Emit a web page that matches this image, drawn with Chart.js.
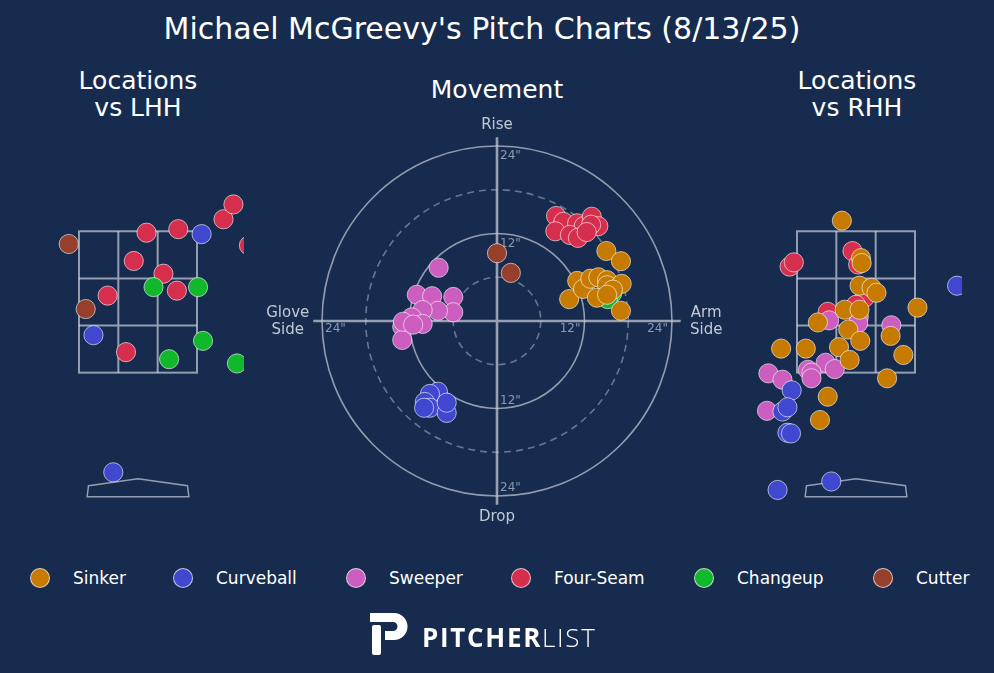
<!DOCTYPE html>
<html>
<head>
<meta charset="utf-8">
<script src="https://cdn.jsdelivr.net/npm/chart.js@4.4.0/dist/chart.umd.min.js"></script>
<style>
  body { margin:0; width:994px; height:673px; overflow:hidden; background:#162b4d; font-family:"DejaVu Sans", sans-serif; color:#fff; position:relative; }
  .txt { position:absolute; transform:translate(-50%,-50%); white-space:nowrap; text-align:center; }
  canvas { position:absolute; }
  #legend .dot { position:absolute; width:18px; height:18px; border-radius:50%; border:1px solid rgba(230,230,230,0.8); transform:translate(-50%,-50%); }
  #legend .lab { position:absolute; font-size:17px; transform:translate(0,-50%); white-space:nowrap; }
  #logo { position:absolute; left:422px; top:637px; transform:translate(0,-50%); font-family:"Open Sans", sans-serif; font-size:26px; letter-spacing:1.7px; white-space:nowrap; }
</style>
</head>
<body>
<div class="txt" style="left:482px;top:28px;font-size:30px">Michael McGreevy's Pitch Charts (8/13/25)</div>
<div class="txt" style="left:138px;top:94px;font-size:25px;line-height:27px">Locations<br>vs LHH</div>
<div class="txt" style="left:497px;top:89px;font-size:25px">Movement</div>
<div class="txt" style="left:857px;top:94px;font-size:25px;line-height:27px">Locations<br>vs RHH</div>

<canvas id="lhh" width="212" height="364" style="left:32px;top:150px"></canvas>
<canvas id="move" width="480" height="420" style="left:257px;top:111px"></canvas>
<canvas id="rhh" width="212" height="364" style="left:750px;top:150px"></canvas>

<div id="legend"></div>

<svg style="position:absolute;left:0;top:0" width="994" height="673">
  <path d="M370,613 H394 A13.5,13.5 0 0 1 394,640 H385 V631 H393 A4.5,4.5 0 0 0 393,622 H370 Z" fill="#fff"/>
  <rect x="372" y="625" width="9" height="30" rx="2" fill="#fff"/>
</svg>
<div id="logo"><b style="font-weight:700">PITCHER</b><span style="font-weight:300">LIST</span></div>

<script>
// pitch types, legend order
var pitchNames  = ['Sinker', 'Curveball', 'Sweeper', 'Four-Seam', 'Changeup', 'Cutter'];
var pitchColors = ['#c67b00', '#4048d0', '#cb5ebf', '#d62f4e', '#12b82c', '#953f2c'];
// which one sits on top when drawn (first = top)
var drawOrder   = ['Cutter', 'Sinker', 'Curveball', 'Sweeper', 'Changeup', 'Four-Seam'];

// movement, inches [horizontal (arm side +), vertical (rise +)]
var moveSinker = [[15.0,9.6],[17.0,8.2],[11.0,5.5],[9.9,3.0],[11.8,4.4],[12.8,5.8],[13.9,6.0],[15.1,5.6],[15.1,4.9],[17.1,5.1],[15.9,4.3],[17.0,1.4],[13.7,3.2],[15.1,3.6]];
var moveCurveball = [[-8.1,-9.7],[-9.2,-10.0],[-9.9,-11.1],[-9.2,-11.9],[-6.9,-12.6],[-6.9,-11.2],[-10.0,-11.9]];
var moveSweeper = [[-8.0,7.3],[-11.0,3.6],[-8.9,3.4],[-6.0,3.3],[-6.0,1.2],[-8.1,1.4],[-10.2,1.5],[-11.7,0.5],[-13.0,-0.8],[-13.0,-2.6],[-10.2,-0.4],[-12.9,-0.1],[-11.5,-0.5]];
var moveFourSeam = [[8.1,14.4],[9.1,13.6],[11.0,13.4],[11.9,13.0],[13.0,14.3],[13.9,13.0],[8.0,12.3],[10.0,11.8],[11.1,11.4],[12.9,13.2],[12.3,12.2]];
var moveChangeup = [[14.5,3.4],[15.8,3.8],[15.2,3.0]];
var moveCutter = [[0.0,9.3],[1.9,6.6]];

// plate locations vs LHH, feet [x, height]
var lhhSinker = [];
var lhhCurveball = [[0.90,3.46],[-0.63,2.03],[-0.35,0.09]];
var lhhSweeper = [];
var lhhFourSeam = [[0.12,3.48],[0.57,3.53],[1.21,3.67],[1.35,3.88],[1.57,3.30],[-0.06,3.08],[0.36,2.90],[0.55,2.66],[-0.43,2.59],[-0.17,1.79]];
var lhhChangeup = [[0.22,2.71],[0.85,2.71],[0.44,1.69],[0.92,1.95],[1.40,1.63]];
var lhhCutter = [[-0.98,3.32],[-0.74,2.40]];

// plate locations vs RHH
var rhhSinker = [[-0.20,3.65],[0.07,3.12],[0.08,3.05],[0.05,2.73],[0.22,2.70],[0.29,2.63],[0.87,2.42],[-0.16,2.39],[0.05,2.39],[-0.54,2.21],[0.49,2.02],[-0.11,2.11],[0.06,1.95],[-1.06,1.84],[-0.71,1.84],[-0.24,1.86],[-0.09,1.68],[0.67,1.75],[0.44,1.42],[-0.40,1.16],[-0.51,0.83]];
var rhhCurveball = [[1.43,2.73],[-0.91,1.25],[-1.04,0.95],[-0.97,1.01],[-0.97,0.65],[-0.92,0.64],[-1.11,-0.16],[-0.35,-0.04]];
var rhhSweeper = [[-0.38,2.24],[0.04,2.29],[0.03,2.20],[0.50,2.17],[-0.43,1.64],[-0.30,1.55],[-0.68,1.54],[-0.63,1.50],[-0.63,1.42],[-1.24,1.49],[-1.04,1.40],[-1.26,0.96]];
var rhhFourSeam = [[-0.05,3.22],[0.03,3.03],[-0.94,3.00],[-0.88,3.06],[0.12,2.56],[0.00,2.46],[-0.40,2.36]];
var rhhChangeup = [];
var rhhCutter = [];

// strike zone and plate outline, feet
var zoneX = [-0.835, 0.835];
var zoneZ = [1.5, 3.5];
var plateShape = [[-0.70,-0.10],[0,0],[0.70,-0.10],[0.72,-0.255],[-0.72,-0.255]];
var ringsSolid = [12, 24];
var ringsDashed = [6, 18];

function buildSets(byName) {
  return drawOrder.map(function(name) {
    var i = pitchNames.indexOf(name);
    return {
      label: name,
      data: byName[name].map(function(p) { return { x: p[0], y: p[1] }; }),
      backgroundColor: pitchColors[i],
      borderColor: 'rgba(255,255,255,0.75)',
      borderWidth: 0.8,
      pointRadius: 9.6,
      clip: false
    };
  });
}

function baseOptions(xmin, xmax, ymin, ymax) {
  return {
    responsive: false,
    animation: false,
    events: [],
    layout: { padding: 0, autoPadding: false },
    plugins: { legend: { display: false }, tooltip: { enabled: false } },
    scales: {
      x: { type: 'linear', min: xmin, max: xmax, display: false },
      y: { type: 'linear', min: ymin, max: ymax, display: false }
    }
  };
}

var zonePlugin = {
  id: 'zone',
  beforeDatasetsDraw: function(chart) {
    var ctx = chart.ctx, xs = chart.scales.x, ys = chart.scales.y;
    ctx.save();
    ctx.strokeStyle = 'rgba(215,220,230,0.65)';
    ctx.lineWidth = 2;
    var x0 = xs.getPixelForValue(zoneX[0]), x1 = xs.getPixelForValue(zoneX[1]);
    var y0 = ys.getPixelForValue(zoneZ[0]), y1 = ys.getPixelForValue(zoneZ[1]);
    ctx.strokeRect(x0, y1, x1 - x0, y0 - y1);
    ctx.beginPath();
    for (var k = 1; k < 3; k++) {
      var gx = x0 + (x1 - x0) * k / 3, gy = y1 + (y0 - y1) * k / 3;
      ctx.moveTo(gx, y1); ctx.lineTo(gx, y0);
      ctx.moveTo(x0, gy); ctx.lineTo(x1, gy);
    }
    ctx.stroke();
    ctx.lineWidth = 1.5;
    ctx.beginPath();
    plateShape.forEach(function(p, j) {
      var px = xs.getPixelForValue(p[0]), py = ys.getPixelForValue(p[1]);
      if (j === 0) ctx.moveTo(px, py); else ctx.lineTo(px, py);
    });
    ctx.closePath();
    ctx.stroke();
    ctx.restore();
  }
};

var polarPlugin = {
  id: 'polar',
  beforeDatasetsDraw: function(chart) {
    var ctx = chart.ctx, xs = chart.scales.x, ys = chart.scales.y;
    var cx = xs.getPixelForValue(0), cy = ys.getPixelForValue(0);
    var unit = xs.getPixelForValue(1) - cx;
    ctx.save();
    ctx.strokeStyle = 'rgba(130,145,170,0.75)';
    ctx.lineWidth = 1.6;
    ctx.setLineDash([7, 5]);
    ringsDashed.forEach(function(r) {
      ctx.beginPath(); ctx.arc(cx, cy, r * unit, 0, Math.PI * 2); ctx.stroke();
    });
    ctx.setLineDash([]);
    ctx.strokeStyle = 'rgba(200,205,215,0.7)';
    ctx.lineWidth = 1.6;
    ringsSolid.forEach(function(r) {
      ctx.beginPath(); ctx.arc(cx, cy, r * unit, 0, Math.PI * 2); ctx.stroke();
    });
    ctx.lineWidth = 2.6;
    ctx.strokeStyle = 'rgba(195,200,212,0.75)';
    ctx.beginPath();
    ctx.moveTo(cx, ys.getPixelForValue(25.2)); ctx.lineTo(cx, ys.getPixelForValue(-25.2));
    ctx.moveTo(xs.getPixelForValue(-25.2), cy); ctx.lineTo(xs.getPixelForValue(25.2), cy);
    ctx.stroke();

    ctx.fillStyle = '#8d99ae';
    ctx.font = '12px "DejaVu Sans"';
    ctx.textBaseline = 'middle';
    ctx.textAlign = 'left';
    ringsSolid.forEach(function(r) {
      ctx.fillText(r + '"', cx + 3, ys.getPixelForValue(r) + 10);
      ctx.fillText(r + '"', cx + 3, ys.getPixelForValue(-r) - 8);
      ctx.fillText(r + '"', xs.getPixelForValue(-r) + 3, cy + 8);
    });
    ctx.textAlign = 'right';
    ringsSolid.forEach(function(r) {
      ctx.fillText(r + '"', xs.getPixelForValue(r) - 4, cy + 8);
    });

    ctx.fillStyle = '#c3c9d4';
    ctx.font = '15px "DejaVu Sans"';
    ctx.textAlign = 'center';
    ctx.fillText('Rise', cx, ys.getPixelForValue(26.9));
    ctx.fillText('Drop', cx, ys.getPixelForValue(-26.9));
    var gx = xs.getPixelForValue(-28.7), ax = xs.getPixelForValue(28.7);
    ctx.fillText('Glove', gx, cy - 8);
    ctx.fillText('Side', gx, cy + 9);
    ctx.fillText('Arm', ax, cy - 8);
    ctx.fillText('Side', ax, cy + 9);
    ctx.restore();
  }
};

new Chart(document.getElementById('lhh'), {
  type: 'scatter',
  data: { datasets: buildSets({ 'Sinker': lhhSinker, 'Curveball': lhhCurveball, 'Sweeper': lhhSweeper, 'Four-Seam': lhhFourSeam, 'Changeup': lhhChangeup, 'Cutter': lhhCutter }) },
  options: baseOptions(-1.5, 1.5, -0.5, 4.65),
  plugins: [zonePlugin]
});

new Chart(document.getElementById('rhh'), {
  type: 'scatter',
  data: { datasets: buildSets({ 'Sinker': rhhSinker, 'Curveball': rhhCurveball, 'Sweeper': rhhSweeper, 'Four-Seam': rhhFourSeam, 'Changeup': rhhChangeup, 'Cutter': rhhCutter }) },
  options: baseOptions(-1.5, 1.5, -0.5, 4.65),
  plugins: [zonePlugin]
});

new Chart(document.getElementById('move'), {
  type: 'scatter',
  data: { datasets: buildSets({ 'Sinker': moveSinker, 'Curveball': moveCurveball, 'Sweeper': moveSweeper, 'Four-Seam': moveFourSeam, 'Changeup': moveChangeup, 'Cutter': moveCutter }) },
  options: baseOptions(-32.92, 32.92, -28.8, 28.8),
  plugins: [polarPlugin]
});

// legend
var legendDotX = [40, 183, 356, 521, 704, 883];
var legend = document.getElementById('legend');
pitchNames.forEach(function(name, i) {
  var d = document.createElement('div');
  d.className = 'dot';
  d.style.left = legendDotX[i] + 'px';
  d.style.top = '578px';
  d.style.background = pitchColors[i];
  legend.appendChild(d);
  var t = document.createElement('div');
  t.className = 'lab';
  t.style.left = (legendDotX[i] + 33) + 'px';
  t.style.top = '578px';
  t.textContent = name;
  legend.appendChild(t);
});
</script>
</body>
</html>
